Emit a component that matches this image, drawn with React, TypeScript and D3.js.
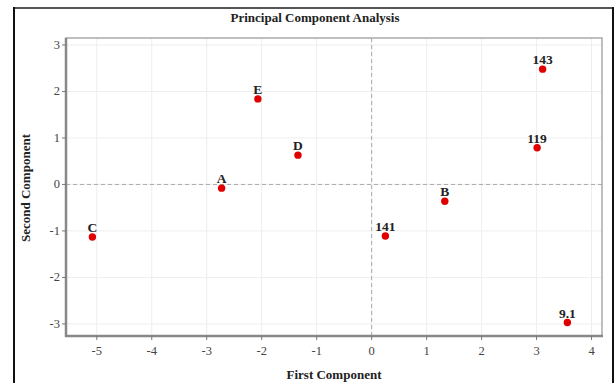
import React from 'react'
import * as d3 from 'd3'

// scores on the first two principal components
const labels = ['C', 'A', 'E', 'D', '141', 'B', '143', '119', '9.1']
const firstComp = [-5.08, -2.73, -2.07, -1.34, 0.25, 1.33, 3.11, 3.01, 3.56]
const secondComp = [-1.13, -0.08, 1.84, 0.63, -1.11, -0.36, 2.48, 0.79, -2.97]

const xTicks = [-5, -4, -3, -2, -1, 0, 1, 2, 3, 4]
const yTicks = [-3, -2, -1, 0, 1, 2, 3]

const width = 615
const height = 383
const layout = {left: 66, right: 602, top: 38, bottom: 336}
const serif = '"Liberation Serif", "Times New Roman", serif'

export default function App() {
  const xScale = d3.scaleLinear().domain([-5.56, 4.19]).range([layout.left, layout.right])
  const yScale = d3.scaleLinear().domain([-3.26, 3.15]).range([layout.bottom, layout.top])

  const points = labels.map((l, i) => ({label: l, x: firstComp[i], y: secondComp[i]}))

  return (
    <svg width={width} height={height} style={{position: 'fixed', left: 0, top: 0, background: '#fff'}}>
      {/* outer frame */}
      <line x1={14} x2={614} y1={8} y2={8} stroke="#555" strokeWidth={2} />
      <line x1={14} x2={14} y1={7} y2={height} stroke="#111" strokeWidth={2} />
      <line x1={613} x2={613} y1={7} y2={height} stroke="#111" strokeWidth={2} />

      <text x={315} y={22} textAnchor="middle" fontFamily={serif} fontWeight="bold" fontSize={13} fill="#222">
        Principal Component Analysis
      </text>

      {/* grid */}
      <g id="grid">
        {xTicks.map(t => (
          <line key={'gx' + t} x1={xScale(t)} x2={xScale(t)} y1={layout.top} y2={layout.bottom} stroke="#eee" />
        ))}
        {yTicks.map(t => (
          <line key={'gy' + t} x1={layout.left} x2={layout.right} y1={yScale(t)} y2={yScale(t)} stroke="#eee" />
        ))}
      </g>

      {/* reference lines */}
      <line x1={xScale(0)} x2={xScale(0)} y1={layout.top} y2={layout.bottom} stroke="#aaa" strokeDasharray="4,3" />
      <line x1={layout.left} x2={layout.right} y1={yScale(0)} y2={yScale(0)} stroke="#aaa" strokeDasharray="4,3" />

      {/* frame */}
      <rect x={layout.left} y={layout.top} width={layout.right - layout.left} height={layout.bottom - layout.top}
        fill="none" stroke="#aaa" strokeWidth={1.5} />
      <line x1={layout.left} x2={layout.left} y1={layout.top} y2={layout.bottom + 1} stroke="#888" strokeWidth={2.5} />
      <line x1={layout.left - 1} x2={layout.right + 1} y1={layout.bottom} y2={layout.bottom} stroke="#888" strokeWidth={2.5} />

      {/* x axis */}
      <g id="xaxis">
        {xTicks.map(t => (
          <g key={'xt' + t}>
            <line x1={xScale(t)} x2={xScale(t)} y1={layout.bottom} y2={layout.bottom + 4} stroke="#777" />
            <text x={xScale(t)} y={layout.bottom + 19} textAnchor="middle" fontFamily={serif} fontSize={12.5} fill="#444">
              {t}
            </text>
          </g>
        ))}
      </g>
      <text x={334} y={379} textAnchor="middle" fontFamily={serif} fontWeight="bold" fontSize={13} fill="#222">
        First Component
      </text>

      {/* y axis */}
      <g id="yaxis">
        {yTicks.map(t => (
          <g key={'yt' + t}>
            <line x1={layout.left - 4} x2={layout.left} y1={yScale(t)} y2={yScale(t)} stroke="#777" />
            <text x={layout.left - 6} y={yScale(t) + 4} textAnchor="end" fontFamily={serif} fontSize={12.5} fill="#444">
              {t}
            </text>
          </g>
        ))}
      </g>
      <text transform="translate(30,188) rotate(-90)" textAnchor="middle" fontFamily={serif} fontWeight="bold"
        fontSize={13} fill="#222">
        Second Component
      </text>

      {/* points */}
      <g id="points">
        {points.map(p => (
          <g key={p.label}>
            <circle cx={xScale(p.x)} cy={yScale(p.y)} r={3.7} fill="#e00000" />
            <text x={xScale(p.x)} y={yScale(p.y) - 5} textAnchor="middle" fontFamily={serif} fontWeight="bold"
              fontSize={13.5} fill="#222">
              {p.label}
            </text>
          </g>
        ))}
      </g>
    </svg>
  )
}
